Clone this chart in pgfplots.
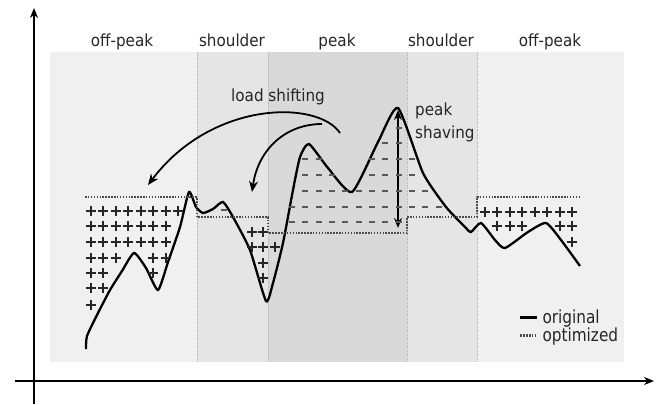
\documentclass[border=0pt]{standalone}
\usepackage{fontspec}
\setmainfont{DejaVu Sans}
\usepackage{graphicx}
\usepackage{pgfplots}
\pgfplotsset{compat=1.18}
\usetikzlibrary{arrows.meta}
\definecolor{offc}{gray}{0.94}
\definecolor{shc}{gray}{0.90}
\definecolor{pkc}{gray}{0.85}
\definecolor{txt}{gray}{0.15}
\newcommand{\lbl}[1]{\scalebox{0.91}[1]{\fontsize{16.7}{19}\selectfont #1}}
\newcommand{\leg}[1]{\scalebox{0.85}[1]{\fontsize{18}{20}\selectfont #1}}
\begin{document}
\begin{tikzpicture}
\begin{axis}[
  scale only axis, width=657pt, height=404pt,
  xmin=0, xmax=657, ymin=0, ymax=404, y dir=reverse,
  hide axis, clip=false,
  legend style={at={(axis cs:519,326.5)}, anchor=west, draw=none, fill=none,
    text=txt, nodes={inner sep=0pt}, column sep=4pt, row sep=3pt,
    legend cell align=left, inner sep=0pt},
  legend image code/.code={\draw[#1] (0pt,0pt) -- (17pt,0pt);},
]
% background regions
\addplot[draw=none, fill=offc, forget plot] coordinates {(50,52)(197,52)(197,362)(50,362)} -- cycle;
\addplot[draw=none, fill=shc, forget plot] coordinates {(197,52)(268,52)(268,362)(197,362)} -- cycle;
\addplot[draw=none, fill=pkc, forget plot] coordinates {(268,52)(407,52)(407,362)(268,362)} -- cycle;
\addplot[draw=none, fill=shc, forget plot] coordinates {(407,52)(477,52)(477,362)(407,362)} -- cycle;
\addplot[draw=none, fill=offc, forget plot] coordinates {(477,52)(624,52)(624,362)(477,362)} -- cycle;
% section boundaries
\addplot[gray!55, densely dotted, line width=0.6pt, forget plot] coordinates {(197,52)(197,362)};
\addplot[gray!55, densely dotted, line width=0.6pt, forget plot] coordinates {(268,52)(268,362)};
\addplot[gray!55, densely dotted, line width=0.6pt, forget plot] coordinates {(407,52)(407,362)};
\addplot[gray!55, densely dotted, line width=0.6pt, forget plot] coordinates {(477,52)(477,362)};
% plus marks (shifted load)
\addplot[only marks, mark=+, mark size=5.3pt, mark options={line width=2.2pt, draw=txt}, forget plot] coordinates {
(91,211)(103,211)(116,211)(128,211)(141,211)(153,211)(166,211)(178,211)
(91,226)(103,226)(116,226)(128,226)(141,226)(153,226)(166,226)
(91,242)(103,242)(116,242)(128,242)(141,242)(153,242)(166,242)
(91,258)(103,258)(116,258)(153,258)(166,258)
(91,273)(103,273)(153,273)
(91,288)(103,288)
(91,305)
(252,232)(263,232)(252,247)(263,247)(275,247)(263,263)(263,278)
(485,212)(497,212)(510,212)(522,212)(535,212)(547,212)(560,212)(572,212)
(497,226)(510,226)(522,226)(560,226)(572,226)
(572,242)};
% minus marks (shaved load)
\addplot[only marks, mark=-, mark size=3pt, mark options={line width=2.3pt, draw=gray!70!black}, forget plot] coordinates {
(292,207)(292,222)
(305.3,159)(305.3,175)(305.3,191)(305.3,207)(305.3,222)
(318.7,159)(318.7,175)(318.7,191)(318.7,207)(318.7,222)
(332,175)(332,191)(332,207)(332,222)
(345.3,191)(345.3,207)(345.3,222)
(358.7,191)(358.7,207)(358.7,222)
(372,159)(372,175)(372,191)(372,207)(372,222)
(385.3,143)(385.3,159)(385.3,175)(385.3,191)(385.3,207)(385.3,222)
(398.7,128)(398.7,143)(398.7,159)(398.7,175)(398.7,191)(398.7,207)(398.7,222)
(412,159)(412,175)(412,191)(412,207)
(425.3,191)(425.3,207)
(438.7,207)
(224,210)};
% original load
\addplot[black, line width=2.3pt, smooth, tension=0.35] coordinates {
(86,349)(87,336)(98,313)(110,290)(122,271)(134,253)(146,268)(158,290)(168,262)(180,227)(189,192)
(196,207)(203,213)(213,209)(223,202)(233,217)(250,250)(266,301)(273,283)(283,243)
(293,190)(300,157)(309,144)(328,168)(352,192)(378,142)(398,108)(423,173)
(446,207)(465,227)(471,232)(481,223)(495,240)(505,248)(528,232)(546,223)(561,240)(580,266)};
\addlegendentry{\leg{original}}
% optimized load
\addplot[black!70, line width=2.2pt, dash pattern=on 1.5pt off 1.4pt] coordinates {
(85,197)(197,197)(197,217)(268,217)(268,233)(407,233)(407,217)(477,217)(477,197)(581,197)};
\addlegendentry{\leg{optimized}}
% bounding helper
\addplot[draw=none, forget plot] coordinates {(0,0)(657,404)};
% axes
\draw[line width=1.8pt, -{Stealth[length=10pt,width=8pt]}] (axis cs:34,404) -- (axis cs:34,8);
\draw[line width=1.8pt, -{Stealth[length=10pt,width=8pt]}] (axis cs:15,381) -- (axis cs:654,381);
% arrows
\draw[line width=1.8pt, -{Stealth[length=11pt,width=9pt]}] (axis cs:340,133) .. controls (axis cs:318,100) and (axis cs:212,100) .. (axis cs:148,185);
\draw[line width=1.8pt, -{Stealth[length=11pt,width=9pt]}] (axis cs:322,124) .. controls (axis cs:285,124) and (axis cs:258,150) .. (axis cs:252,192);
\draw[line width=1.6pt, {Stealth[length=10pt,width=8pt]}-{Stealth[length=10pt,width=8pt]}] (axis cs:398,110) -- (axis cs:398,228);
% labels
\begin{scope}[every node/.style={text=txt, inner sep=0pt, anchor=base}]
\node at (axis cs:122,46) {\lbl{off-peak}};
\node at (axis cs:232,46) {\lbl{shoulder}};
\node at (axis cs:337,46) {\lbl{peak}};
\node at (axis cs:441,46) {\lbl{shoulder}};
\node at (axis cs:550,46) {\lbl{off-peak}};
\node at (axis cs:278,101) {\lbl{load shifting}};
\node[anchor=base west] at (axis cs:415,115) {\lbl{peak}};
\node[anchor=base west] at (axis cs:415,138) {\lbl{shaving}};
\end{scope}
\end{axis}
\end{tikzpicture}
\end{document}
